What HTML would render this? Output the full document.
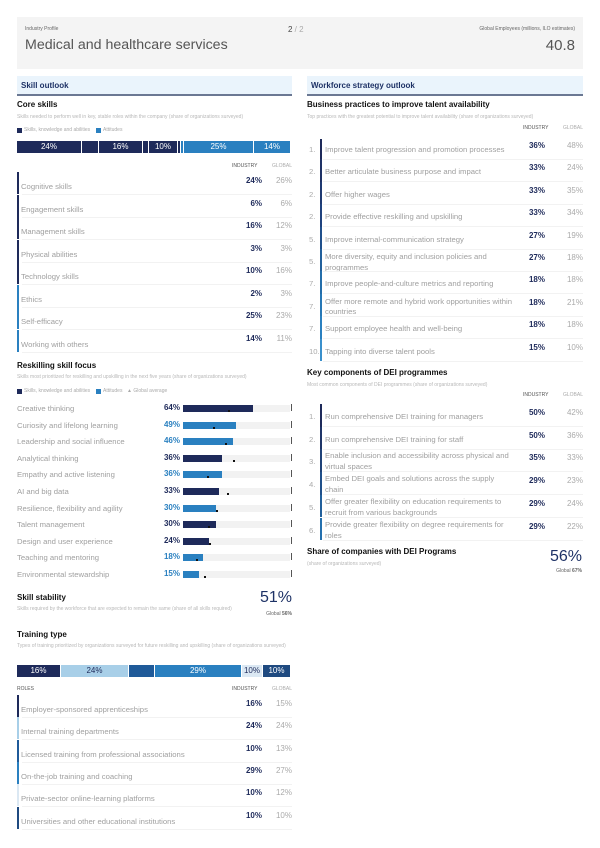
<!DOCTYPE html>
<html><head><meta charset="utf-8">
<style>
*{margin:0;padding:0;box-sizing:border-box}
body{width:600px;height:848px;background:#fff;font-family:"Liberation Sans",sans-serif;position:relative;overflow:hidden;color:#222}
.a{position:absolute;white-space:nowrap}
.hdr{position:absolute;background:#eaf4fc;height:20px;border-bottom:2px solid #6b7893}
.hdr span{position:absolute;left:4px;top:5px;font-size:8px;font-weight:bold;color:#1e3266}
.h2{position:absolute;font-size:8px;font-weight:bold;color:#111}
.sub{position:absolute;font-size:5px;color:#b8b8b8;line-height:9px}
.lbl{position:absolute;font-size:7.7px;color:#a0a0a0;white-space:nowrap}
.cap{position:absolute;font-size:5px;color:#555}
.v{position:absolute;font-size:8px;font-weight:bold;color:#1e2a5a;text-align:right;width:40px}
.g{position:absolute;font-size:8px;color:#aaa;text-align:right;width:40px}
.sep{position:absolute;height:1px;background:#f2f2f2}
.seg{position:absolute;color:#fff;font-size:8px;text-align:center;line-height:12px;overflow:hidden}
</style></head><body>
<div class="a" style="left:17px;top:17px;width:566px;height:52px;background:#f4f4f4"></div>
<div class="a" style="left:25px;top:26px;font-size:5px;color:#666">Industry Profile</div>
<div class="a" style="left:25px;top:37px;font-size:14.2px;color:#555">Medical and healthcare services</div>
<div class="a" style="left:288px;top:25px;font-size:8px;color:#444">2 <span style="color:#aaa">/ 2</span></div>
<div class="a" style="right:25px;top:26px;font-size:5px;color:#666">Global Employees (millions, ILO estimates)</div>
<div class="a" style="right:25px;top:37px;font-size:15px;color:#555">40.8</div>

<div class="hdr" style="left:17px;top:76px;width:275px"><span>Skill outlook</span></div>
<div class="hdr" style="left:307px;top:76px;width:276px"><span>Workforce strategy outlook</span></div>

<div class="h2" style="left:17px;top:100px">Core skills</div>
<div class="sub" style="left:17px;top:113px">Skills needed to perform well in key, stable roles within the company (share of organizations surveyed)</div>
<div class="a" style="left:17px;top:128px;width:5px;height:5px;background:#1e2a5a"></div>
<div class="cap" style="left:24px;top:127px;color:#aaa">Skills, knowledge and abilities</div>
<div class="a" style="left:96px;top:128px;width:5px;height:5px;background:#2a80c0"></div>
<div class="cap" style="left:103px;top:127px;color:#aaa">Attitudes</div>
<div id="core"></div>

<div class="h2" style="left:17px;top:361px">Reskilling skill focus</div>
<div class="sub" style="left:17px;top:373px">Skills most prioritized for reskilling and upskilling in the next five years (share of organizations surveyed)</div>
<div class="a" style="left:17px;top:389px;width:5px;height:5px;background:#1e2a5a"></div>
<div class="cap" style="left:24px;top:388px;color:#aaa">Skills, knowledge and abilities</div>
<div class="a" style="left:96px;top:389px;width:5px;height:5px;background:#2a80c0"></div>
<div class="cap" style="left:103px;top:388px;color:#aaa">Attitudes</div>
<div class="cap" style="left:127px;top:388px;color:#aaa">▲ Global average</div>
<div id="resk"></div>

<div class="h2" style="left:17px;top:593px">Skill stability</div>
<div class="sub" style="left:17px;top:605px;width:240px;white-space:normal">Skills required by the workforce that are expected to remain the same (share of all skills required)</div>
<div class="a" style="right:308px;top:589px;font-size:16px;color:#1e3266">51%</div>
<div class="a" style="right:308px;top:611px;font-size:5px;color:#666">Global <b>56%</b></div>

<div class="h2" style="left:17px;top:630px">Training type</div>
<div class="sub" style="left:17px;top:642px;width:275px;white-space:normal">Types of training prioritized by organizations surveyed for future reskilling and upskilling (share of organizations surveyed)</div>
<div id="train"></div>

<div class="h2" style="left:307px;top:100px">Business practices to improve talent availability</div>
<div class="sub" style="left:307px;top:113px">Top practices with the greatest potential to improve talent availability (share of organizations surveyed)</div>
<div id="biz"></div>

<div class="h2" style="left:307px;top:368px">Key components of DEI programmes</div>
<div class="sub" style="left:307px;top:381px">Most common components of DEI programmes (share of organizations surveyed)</div>
<div id="dei"></div>

<div class="h2" style="left:307px;top:547px">Share of companies with DEI Programs</div>
<div class="sub" style="left:307px;top:560px">(share of organizations surveyed)</div>
<div class="a" style="right:18px;top:548px;font-size:16px;color:#1e3266">56%</div>
<div class="a" style="right:18px;top:568px;font-size:5px;color:#666">Global <b>67%</b></div>

<script>
function h(s){document.body.insertAdjacentHTML('beforeend',s)}
var N='#1e2a5a',B='#2a80c0',L='#a8cfe8';
[[17,65,N,'24%'],[82,17,N,''],[99,44,N,'16%'],[143,6,N,''],[149,29,N,'10%'],[178,3,N,''],[181,3,B,''],[184,70,B,'25%'],[254,37,B,'14%']].forEach(function(s){
h('<div class="seg" style="left:'+s[0]+'px;top:141px;width:'+(s[1]-1)+'px;height:12px;background:'+s[2]+'">'+s[3]+'</div>')});
h('<div class="cap" style="left:232px;top:163px">INDUSTRY</div><div class="cap" style="left:272px;top:163px;color:#aaa">GLOBAL</div>');
var core=[['Cognitive skills','24%','26%',N],['Engagement skills','6%','6%',N],['Management skills','16%','12%',N],['Physical abilities','3%','3%',N],['Technology skills','10%','16%',N],['Ethics','2%','3%',B],['Self-efficacy','25%','23%',B],['Working with others','14%','11%',B]];
core.forEach(function(r,i){var y=172+i*22.5;
h('<div class="a" style="left:17px;top:'+y+'px;width:2px;height:22px;background:'+r[3]+'"></div>');
h('<div class="lbl" style="left:21px;top:'+(y+10)+'px">'+r[0]+'</div>');
h('<div class="v" style="left:222px;top:'+(y+4)+'px">'+r[1]+'</div><div class="g" style="left:252px;top:'+(y+4)+'px">'+r[2]+'</div>');
h('<div class="sep" style="left:22px;top:'+(y+22)+'px;width:270px"></div>')});
var rs=[['Creative thinking',64,N,229],['Curiosity and lifelong learning',49,B,214],['Leadership and social influence',46,B,226],['Analytical thinking',36,N,234],['Empathy and active listening',36,B,208],['AI and big data',33,N,228],['Resilience, flexibility and agility',30,B,217],['Talent management',30,N,209],['Design and user experience',24,N,210],['Teaching and mentoring',18,B,197],['Environmental stewardship',15,B,205]];
rs.forEach(function(r,i){var y=403+i*16.6;
h('<div class="lbl" style="left:17px;top:'+(y+1)+'px">'+r[0]+'</div>');
h('<div class="a" style="left:140px;top:'+y+'px;width:40px;text-align:right;font-size:8px;font-weight:bold;color:'+(r[2]==N?N:B)+'">'+r[1]+'%</div>');
h('<div class="a" style="left:183px;top:'+(y+2)+'px;width:107px;height:7px;background:#f2f2f2"></div>');
h('<div class="a" style="left:183px;top:'+(y+2)+'px;width:'+(r[1]*1.09)+'px;height:7px;background:'+r[2]+'"></div>');
h('<div class="a" style="left:291px;top:'+(y+1)+'px;width:1px;height:7px;background:#555"></div>');
h('<div class="a" style="left:'+(r[3]-1)+'px;top:'+(y+7)+'px;width:2px;height:2px;background:#111"></div>')});
[[17,44,N,'16%','#fff'],[61,68,L,'24%','#1e2a5a'],[129,26,'#1f5a99','',''],[155,87,B,'29%','#fff'],[242,21,'#dbe8f3','10%','#1e2a5a'],[263,28,'#1f4a80','10%','#fff']].forEach(function(s){
h('<div class="seg" style="left:'+s[0]+'px;top:665px;width:'+(s[1]-1)+'px;height:12px;background:'+s[2]+';color:'+s[4]+'">'+s[3]+'</div>')});
h('<div class="cap" style="left:17px;top:686px">ROLES</div><div class="cap" style="left:232px;top:686px">INDUSTRY</div><div class="cap" style="left:272px;top:686px;color:#aaa">GLOBAL</div>');
var tr=[['Employer-sponsored apprenticeships','16%','15%',N],['Internal training departments','24%','24%',L],['Licensed training from professional associations','10%','13%','#1f5a99'],['On-the-job training and coaching','29%','27%',B],['Private-sector online-learning platforms','10%','12%','#dbe8f3'],['Universities and other educational institutions','10%','10%','#1f4a80']];
tr.forEach(function(r,i){var y=695+i*22.3;
h('<div class="a" style="left:17px;top:'+y+'px;width:2px;height:22px;background:'+r[3]+'"></div>');
h('<div class="lbl" style="left:21px;top:'+(y+10)+'px">'+r[0]+'</div>');
h('<div class="v" style="left:222px;top:'+(y+4)+'px">'+r[1]+'</div><div class="g" style="left:252px;top:'+(y+4)+'px">'+r[2]+'</div>');
h('<div class="sep" style="left:22px;top:'+(y+22)+'px;width:270px"></div>')});
h('<div class="cap" style="left:523px;top:125px">INDUSTRY</div><div class="cap" style="left:563px;top:125px;color:#aaa">GLOBAL</div>');
var bz=[['1.','Improve talent progression and promotion processes','36%','48%'],['2.','Better articulate business purpose and impact','33%','24%'],['2.','Offer higher wages','33%','35%'],['2.','Provide effective reskilling and upskilling','33%','34%'],['5.','Improve internal-communication strategy','27%','19%'],['5.','More diversity, equity and inclusion policies and<br>programmes','27%','18%'],['7.','Improve people-and-culture metrics and reporting','18%','18%'],['7.','Offer more remote and hybrid work opportunities within<br>countries','18%','21%'],['7.','Support employee health and well-being','18%','18%'],['10.','Tapping into diverse talent pools','15%','10%']];
bz.forEach(function(r,i){var y=137+i*22.4;var c=['#1e2a5a','#1f3266','#1f3a72','#1f427e','#20508c','#22609c','#246eaa','#2778b6','#2a80c0','#3a90cc'][i];
h('<div class="a" style="left:320px;top:'+(i==0?y+2:y)+'px;width:2px;height:22.4px;background:'+c+'"></div>');
var two=r[1].indexOf('<br>')>0;
h('<div class="lbl" style="left:309px;top:'+(y+8)+'px;color:#aaa">'+r[0]+'</div>');
h('<div class="lbl" style="left:325px;top:'+(two?y+3:y+8)+'px;line-height:10.5px">'+r[1]+'</div>');
h('<div class="v" style="left:505px;top:'+(y+4)+'px">'+r[2]+'</div><div class="g" style="left:543px;top:'+(y+4)+'px">'+r[3]+'</div>');
h('<div class="sep" style="left:323px;top:'+(y+22)+'px;width:260px"></div>')});
h('<div class="cap" style="left:523px;top:392px">INDUSTRY</div><div class="cap" style="left:563px;top:392px;color:#aaa">GLOBAL</div>');
var de=[['1.','Run comprehensive DEI training for managers','50%','42%'],['2.','Run comprehensive DEI training for staff','50%','36%'],['3.','Enable inclusion and accessibility across physical and<br>virtual spaces','35%','33%'],['4.','Embed DEI goals and solutions across the supply<br>chain','29%','23%'],['5.','Offer greater flexibility on education requirements to<br>recruit from various backgrounds','29%','24%'],['6.','Provide greater flexibility on degree requirements for<br>roles','29%','22%']];
de.forEach(function(r,i){var y=404+i*22.7;var c=['#1e2a5a','#1f3568','#1f4278','#20508a','#22609c','#2470ae'][i];
h('<div class="a" style="left:320px;top:'+y+'px;width:2px;height:22.7px;background:'+c+'"></div>');
var two=r[1].indexOf('<br>')>0;
h('<div class="lbl" style="left:309px;top:'+(y+8)+'px;color:#aaa">'+r[0]+'</div>');
h('<div class="lbl" style="left:325px;top:'+(two?y+1:y+7)+'px;line-height:11px">'+r[1]+'</div>');
h('<div class="v" style="left:505px;top:'+(y+4)+'px">'+r[2]+'</div><div class="g" style="left:543px;top:'+(y+4)+'px">'+r[3]+'</div>');
h('<div class="sep" style="left:323px;top:'+(y+22)+'px;width:260px"></div>')});
</script>
</body></html>
